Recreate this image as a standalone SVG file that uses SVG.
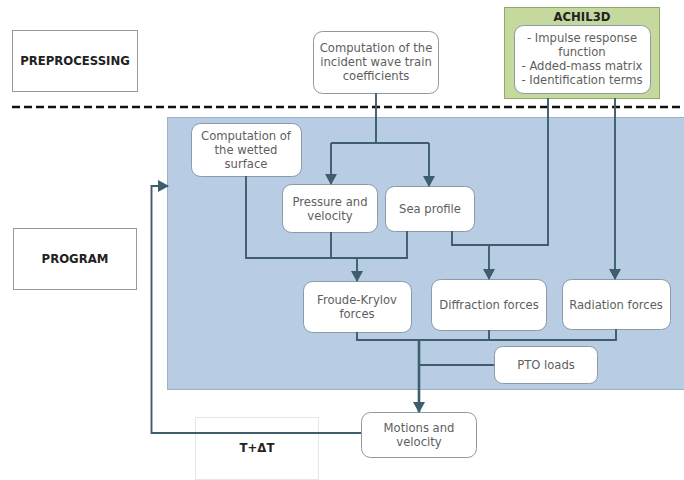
<svg xmlns="http://www.w3.org/2000/svg" width="684" height="480" viewBox="0 0 684 480">
<style>
.lbl{font-family:"DejaVu Sans",Verdana,sans-serif;font-size:11.7px;font-weight:bold;fill:#222;text-anchor:middle}
.t{font-family:"DejaVu Sans",Verdana,sans-serif;font-size:11.6px;fill:#5e5e5e;text-anchor:middle}
.node{fill:#fff;stroke:#8c9aa6;stroke-width:1}
.c{fill:none;stroke:#3e5e6c;stroke-width:1.9}
.thick{stroke-width:2.6}
</style>
<defs>
<marker id="ah" markerWidth="11" markerHeight="12" refX="10" refY="6" orient="auto" markerUnits="userSpaceOnUse">
<path d="M0,0 L11,6 L0,12 Z" fill="#3e5e6c"/>
</marker>
</defs>
<rect x="0" y="0" width="684" height="480" fill="#fff"/>
<g id="preprocessing"><rect x="12.5" y="30.5" width="125" height="61" fill="#fff" stroke="#999"/><text class="lbl" x="75" y="65">PREPROCESSING</text></g>
<line x1="12" y1="107" x2="684" y2="107" stroke="#111" stroke-width="2.5" stroke-dasharray="8,4"/>
<g id="program-area"><rect x="167.5" y="117.5" width="520" height="272" fill="#b8cce4" stroke="#9cb1c9"/></g>
<g id="program"><rect x="13.5" y="228.5" width="123" height="61" fill="#fff" stroke="#999"/><text class="lbl" x="75" y="263">PROGRAM</text></g>
<g id="tdt"><rect x="195.5" y="417.5" width="123" height="62" fill="#fff" stroke="#e6e6e6"/><text class="lbl" x="257" y="452">T+ΔT</text></g>
<g id="achil3d"><rect x="504.5" y="7.5" width="155" height="91" fill="#c5d89e" stroke="#90a86a"/><text class="lbl" x="582" y="21">ACHIL3D</text>
<rect class="node" x="514.5" y="25.5" width="136" height="68" rx="9"/>
<text class="t" x="582" y="42">- Impulse response</text><text class="t" x="582" y="56">function</text><text class="t" x="582" y="70">- Added-mass matrix</text><text class="t" x="582" y="84">- Identification terms</text></g>
<g id="incident"><rect class="node" x="313.5" y="31.5" width="125" height="62" rx="9"/>
<text class="t" x="376" y="52">Computation of the</text><text class="t" x="376" y="66">incident wave train</text><text class="t" x="376" y="80">coefficients</text></g>
<g id="wetted"><rect class="node" x="191.5" y="123.5" width="110" height="53" rx="9"/>
<text class="t" x="246" y="140">Computation of</text><text class="t" x="246" y="154">the wetted</text><text class="t" x="246" y="168">surface</text></g>
<g id="pressure"><rect class="node" x="282.5" y="184.5" width="95" height="48" rx="9"/>
<text class="t" x="330" y="206">Pressure and</text><text class="t" x="330" y="220">velocity</text></g>
<g id="sea"><rect class="node" x="385.5" y="186.5" width="89" height="45" rx="9"/>
<text class="t" x="430" y="213">Sea profile</text></g>
<g id="froude"><rect class="node" x="303.5" y="281.5" width="108" height="51" rx="9"/>
<text class="t" x="357" y="304">Froude-Krylov</text><text class="t" x="357" y="318">forces</text></g>
<g id="diffraction"><rect class="node" x="431.5" y="279.5" width="115" height="51" rx="9"/>
<text class="t" x="489" y="309">Diffraction forces</text></g>
<g id="radiation"><rect class="node" x="562.5" y="279.5" width="108" height="50" rx="9"/>
<text class="t" x="616" y="309">Radiation forces</text></g>
<g id="pto"><rect class="node" x="494.5" y="346.5" width="103" height="37" rx="8"/>
<text class="t" x="546" y="369">PTO loads</text></g>
<g id="motions"><rect class="node" x="361.5" y="412.5" width="115" height="45" rx="9"/>
<text class="t" x="419" y="432">Motions and</text><text class="t" x="419" y="446">velocity</text></g>
<g id="connectors">
<path class="c" d="M376,93 V143 M331,143 H429"/>
<path class="c" d="M331,143 V184" marker-end="url(#ah)"/>
<path class="c" d="M429,143 V186" marker-end="url(#ah)"/>
<path class="c" d="M246,176 V258 H407 V231 M331,232 V258"/>
<path class="c" d="M357,258 V281" marker-end="url(#ah)"/>
<path class="c" d="M548,98 V245 H452 V231"/>
<path class="c" d="M489,245 V279" marker-end="url(#ah)"/>
<path class="c" d="M615,98 V279" marker-end="url(#ah)"/>
<path class="c" d="M357,332 V340 H616 V329 M489,330 V340 M419,365 H494"/>
<path class="c thick" d="M419,340 V412" marker-end="url(#ah)"/>
<path class="c" d="M361,433 H151.5 V186 H168" marker-end="url(#ah)"/>
</g>
</svg>
